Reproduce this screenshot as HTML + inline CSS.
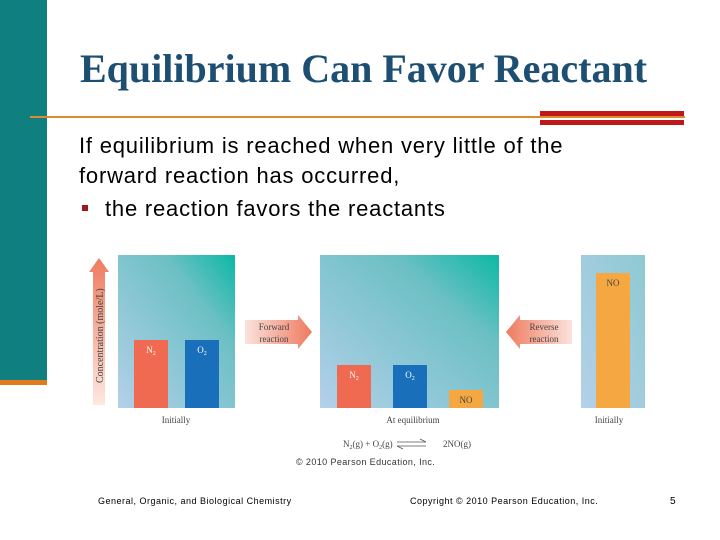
<!DOCTYPE html>
<html><head><meta charset="utf-8"><style>
body{margin:0;width:720px;height:540px;overflow:hidden;background:#fff;position:relative;font-family:"Liberation Sans",sans-serif}
.a{position:absolute}
</style></head><body>
<div class="a" style="left:0;top:0;width:47px;height:380px;background:#0f7f7f"></div>
<div class="a" style="left:0;top:380px;width:47px;height:5px;background:#e07a1f"></div>
<div class="a" style="left:80px;top:45px;font-family:'Liberation Serif',serif;font-weight:bold;font-size:40px;color:#1d4f73;white-space:nowrap">Equilibrium Can Favor Reactant</div>
<div class="a" style="left:30px;top:116px;width:655px;height:2px;background:#e08a30"></div>
<div class="a" style="left:540px;top:111px;width:144px;height:5px;background:#c01818"></div>
<div class="a" style="left:540px;top:120px;width:144px;height:5px;background:#c01818"></div>
<div class="a" style="left:79px;top:131px;font-size:22px;line-height:30px;letter-spacing:0.8px;color:#000;white-space:nowrap">If equilibrium is reached when very little of the<br>forward reaction has occurred,<br><span style="display:inline-block;margin-top:3px"><span style="display:inline-block;width:6px;height:6px;background:#a01818;vertical-align:5px;margin-left:3px;margin-right:17px"></span>the reaction favors the reactants</span></div>
<svg class="a" style="left:0;top:0" width="720" height="540">
<defs>
<linearGradient id="g" x1="0" y1="1" x2="1" y2="0"><stop offset="0" stop-color="#b4d0ea"/><stop offset="0.7" stop-color="#6cc0c4"/><stop offset="1" stop-color="#0cb8a4"/></linearGradient>
<linearGradient id="g3" x1="0" y1="1" x2="1" y2="0"><stop offset="0" stop-color="#b4d0ea"/><stop offset="1" stop-color="#8ec9d2"/></linearGradient>
<linearGradient id="ar" x1="0" y1="0" x2="1" y2="0"><stop offset="0" stop-color="#fbe3dc"/><stop offset="1" stop-color="#ef7a5f"/></linearGradient>
<linearGradient id="arl" x1="1" y1="0" x2="0" y2="0"><stop offset="0" stop-color="#fbe3dc"/><stop offset="1" stop-color="#ef7a5f"/></linearGradient>
<linearGradient id="ay" x1="0" y1="1" x2="0" y2="0"><stop offset="0" stop-color="#fde8e0"/><stop offset="1" stop-color="#ef7a5f"/></linearGradient>
</defs>
<polygon points="93,405 105,405 105,272 109,272 99,258 89,272 93,272" fill="url(#ay)"/>
<text transform="translate(103,383) rotate(-90)" font-family="Liberation Serif" font-size="10" fill="#444">Concentration (mole/L)</text>
<rect x="118" y="255" width="117" height="153" fill="url(#g)"/>
<rect x="320" y="255" width="179" height="153" fill="url(#g)"/>
<rect x="581" y="255" width="64" height="153" fill="url(#g3)"/>
<polygon points="245,320 298,320 298,315 312,332 298,349 298,344 245,344" fill="url(#ar)"/>
<text x="274" y="330" text-anchor="middle" font-family="Liberation Serif" font-size="9" fill="#444">Forward</text>
<text x="274" y="342" text-anchor="middle" font-family="Liberation Serif" font-size="9" fill="#444">reaction</text>
<polygon points="572,320 520,320 520,315 506,332 520,349 520,344 572,344" fill="url(#arl)"/>
<text x="544" y="330" text-anchor="middle" font-family="Liberation Serif" font-size="9" fill="#444">Reverse</text>
<text x="544" y="342" text-anchor="middle" font-family="Liberation Serif" font-size="9" fill="#444">reaction</text>
<g id="bars"></g>
<text x="176" y="423" text-anchor="middle" font-family="Liberation Serif" font-size="9" fill="#444">Initially</text>
<text x="413" y="423" text-anchor="middle" font-family="Liberation Serif" font-size="9" fill="#444">At equilibrium</text>
<text x="609" y="423" text-anchor="middle" font-family="Liberation Serif" font-size="9" fill="#444">Initially</text>
<text x="343" y="447" font-family="Liberation Serif" font-size="9" fill="#444">N<tspan font-size="6" dy="2">2</tspan><tspan dy="-2">(g) + O</tspan><tspan font-size="6" dy="2">2</tspan><tspan dy="-2">(g)</tspan></text>
<path d="M397,442 H426 L420,439 M426,446 H397 L403,449" fill="none" stroke="#555" stroke-width="0.8"/>
<text x="443" y="447" font-family="Liberation Serif" font-size="9" fill="#444">2NO(g)</text>
<text x="296" y="465" font-size="9" letter-spacing="0.4" fill="#333">© 2010 Pearson Education, Inc.</text>
<text x="98" y="504" font-size="9" letter-spacing="0.5" fill="#000">General, Organic, and Biological Chemistry</text>
<text x="410" y="504" font-size="9" letter-spacing="0.5" fill="#000">Copyright © 2010 Pearson Education, Inc.</text>
<text x="670" y="504" font-size="10" fill="#000">5</text>
</svg>
<script>
const categories=["N2","O2","N2","O2","NO","NO"];
const panels=["initial","initial","equilibrium","equilibrium","equilibrium","reverse"];
const concentrations=[68,68,43,43,18,135];
const colors={N2:"#ef6a50",O2:"#1a6fba",NO:"#f5a742"};
const xPos={initial:[134,185],equilibrium:[337,393,449],reverse:[596]};
const base=408,scale=1;
function y(v){return base-v*scale;}
const g=document.getElementById('bars');const ns="http://www.w3.org/2000/svg";
const cnt={initial:0,equilibrium:0,reverse:0};
categories.forEach((c,i)=>{
 const p=panels[i];const x=xPos[p][cnt[p]++];
 const r=document.createElementNS(ns,'rect');
 
 
 r.setAttribute('x',x);r.setAttribute('y',y(concentrations[i]));r.setAttribute('width',34);r.setAttribute('height',base-y(concentrations[i]));r.setAttribute('fill',colors[c]);
 g.appendChild(r);
 const t=document.createElementNS(ns,'text');
 
 
 const small=concentrations[i]<25;
 t.setAttribute('x',x+17);t.setAttribute('y',small?base-5:y(concentrations[i])+13);
 t.setAttribute('text-anchor','middle');t.setAttribute('font-family','Liberation Serif');t.setAttribute('font-size','9');
 t.setAttribute('fill',c==="NO"?"#444":"#fff");
 if(c==="NO"){t.textContent="NO";}else{t.textContent=c[0];const s=document.createElementNS(ns,'tspan');s.setAttribute('font-size','6');s.setAttribute('dy','2');s.textContent="2";t.appendChild(s);}
 g.appendChild(t);
});
</script>
</body></html>
